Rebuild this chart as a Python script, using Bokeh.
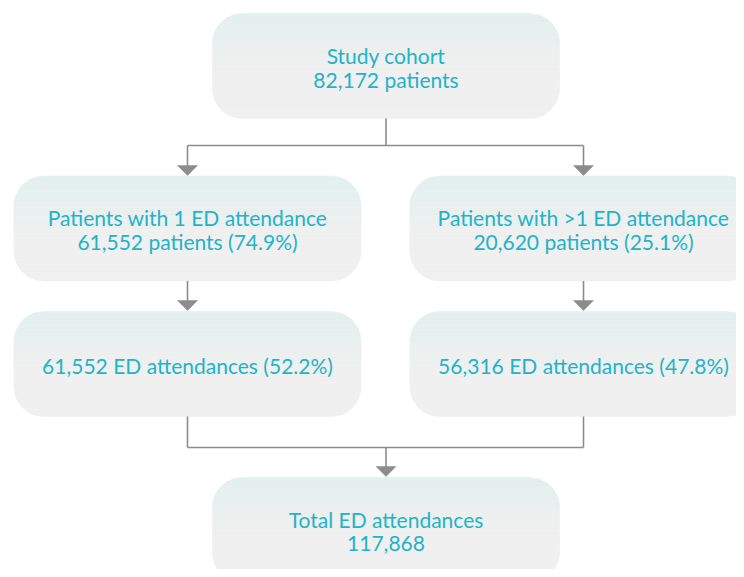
import numpy as np
from bokeh.plotting import figure
from bokeh.models import Range1d
from bokeh.core.properties import value
from bokeh.embed import file_html
from bokeh.resources import INLINE

# ---- data ----
cohort_patients = 82172
group_names = ["Patients with 1 ED attendance", "Patients with >1 ED attendance"]
group_patients = [61552, 20620]
group_patient_pct = [74.9, 25.1]
group_attendances = [61552, 56316]
group_attendance_pct = [52.2, 47.8]
total_attendances = 117868

# ---- styles ----
TEXT_COLOR = "#22b3c9"
LINE_COLOR = "#8c8c8c"
TOP_FILL = np.array([0xe1, 0xf0, 0xee])
BOT_FILL = np.array([0xf0, 0xf0, 0xf0])
FONT = "Lato"
FS = "21px"

W, H = 736, 569
p = figure(width=W, height=H, output_backend="svg", toolbar_location=None,
           x_range=Range1d(0, W), y_range=Range1d(H, 0),
           x_axis_location=None, y_axis_location=None,
           min_border=0, outline_line_color=None)
p.grid.visible = False
p.background_fill_color = "white"


def half_width_offset(y, y0, y1, r):
    if y < y0 + r:
        d = (y0 + r) - y
    elif y > y1 - r:
        d = y - (y1 - r)
    else:
        return 0.0
    d = min(d, r)
    return r - np.sqrt(max(r * r - d * d, 0.0))


def draw_box(cx, cy, w, h, r=30, nb=24):
    x0, x1 = cx - w / 2, cx + w / 2
    y0, y1 = cy - h / 2, cy + h / 2
    xs_list, ys_list, colors = [], [], []
    edges = np.linspace(y0, y1, nb + 1)
    for i in range(nb):
        a, b = edges[i], edges[i + 1]
        ys = np.linspace(a, b, 6)
        left = [x0 + half_width_offset(y, y0, y1, r) for y in ys]
        right = [x1 - half_width_offset(y, y0, y1, r) for y in ys]
        xs = left + right[::-1]
        yy = list(ys) + list(ys[::-1])
        t = min(((a + b) / 2 - y0) / (h * 0.55), 1.0)
        c = TOP_FILL * (1 - t) + BOT_FILL * t
        xs_list.append(xs)
        ys_list.append(yy)
        colors.append("#%02x%02x%02x" % tuple(int(round(v)) for v in c))
    p.patches(xs_list, ys_list, fill_color=colors, line_color=colors, line_width=0.6)


def draw_text(cx, cy, lines, dy=24):
    n = len(lines)
    ys = [cy + (i - (n - 1) / 2) * dy for i in range(n)]
    p.text(x=[cx] * n, y=ys, text=lines, text_align="center", text_baseline="middle",
           text_color=TEXT_COLOR, text_font=value(FONT), text_font_size=FS)


def arrow_head(x, ytip, w=20, hgt=10):
    p.patch([x - w / 2, x + w / 2, x], [ytip - hgt, ytip - hgt, ytip],
            fill_color=LINE_COLOR, line_color=LINE_COLOR, line_width=0.5)


BW, BH = 347, 105
cx_top, cx_l, cx_r = 385.5, 187, 583
y_top, y_mid, y_low, y_bot = 65.5, 228, 363.5, 529.5

draw_box(cx_top, y_top, BW, BH)
draw_box(cx_l, y_mid, BW, BH)
draw_box(cx_r, y_mid, BW, BH)
draw_box(cx_l, y_low, BW, BH)
draw_box(cx_r, y_low, BW, BH)
draw_box(cx_top, y_bot, BW, BH)

lw = 1.6
p.line([cx_top, cx_top], [y_top + BH / 2, 145], line_color=LINE_COLOR, line_width=lw)
p.line([cx_l, cx_r], [145, 145], line_color=LINE_COLOR, line_width=lw)
for cx in (cx_l, cx_r):
    p.line([cx, cx], [145, 166], line_color=LINE_COLOR, line_width=lw)
    arrow_head(cx, 175)
    p.line([cx, cx], [y_mid + BH / 2, 301], line_color=LINE_COLOR, line_width=lw)
    arrow_head(cx, 310)
    p.line([cx, cx], [y_low + BH / 2, 447], line_color=LINE_COLOR, line_width=lw)
p.line([cx_l, cx_r], [447, 447], line_color=LINE_COLOR, line_width=lw)
p.line([cx_top, cx_top], [447, 467], line_color=LINE_COLOR, line_width=lw)
arrow_head(cx_top, 476)

draw_text(cx_top, y_top + 1.5, ["Study cohort", f"{cohort_patients:,} patients"])
for cx, name, n, pct in zip((cx_l, cx_r), group_names, group_patients, group_patient_pct):
    draw_text(cx, y_mid + 1, [name, f"{n:,} patients ({pct}%)"])
for cx, n, pct in zip((cx_l, cx_r), group_attendances, group_attendance_pct):
    draw_text(cx, y_low + 1.5, [f"{n:,} ED attendances ({pct}%)"])
draw_text(cx_top, y_bot + 1.5, ["Total ED attendances", f"{total_attendances:,}"])

open("out.html", "w").write(file_html(p, INLINE))
